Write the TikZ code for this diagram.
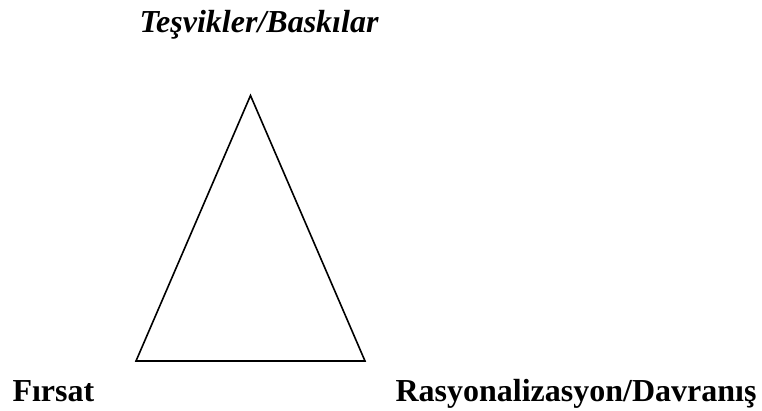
\documentclass[tikz,border=0pt]{standalone}
\usepackage{fontspec}
\setmainfont{Liberation Serif}
\begin{document}
\begin{tikzpicture}[x=0.375pt,y=-0.375pt,
  lbl/.style={inner sep=0pt,font=\fontsize{12pt}{14pt}\selectfont\bfseries},
  tri/.style={draw=black,line width=0.6pt,line join=miter}]
\useasboundingbox (0,0) rectangle (762,410);
\coordinate (A) at (250.5,95.5);
\coordinate (B) at (136,361);
\coordinate (C) at (365,361);
\draw[tri] (A) -- (B) -- (C) -- cycle;
\node[lbl,anchor=base,font=\fontsize{12pt}{14pt}\selectfont\bfseries\itshape] (top) at (259,32) {Teşvikler/Baskılar};
\node[lbl,anchor=base west] (left) at (12,401) {Fırsat};
\node[lbl,anchor=base east] (right) at (757,401) {Rasyonalizasyon/Davranış};
\end{tikzpicture}
\end{document}
